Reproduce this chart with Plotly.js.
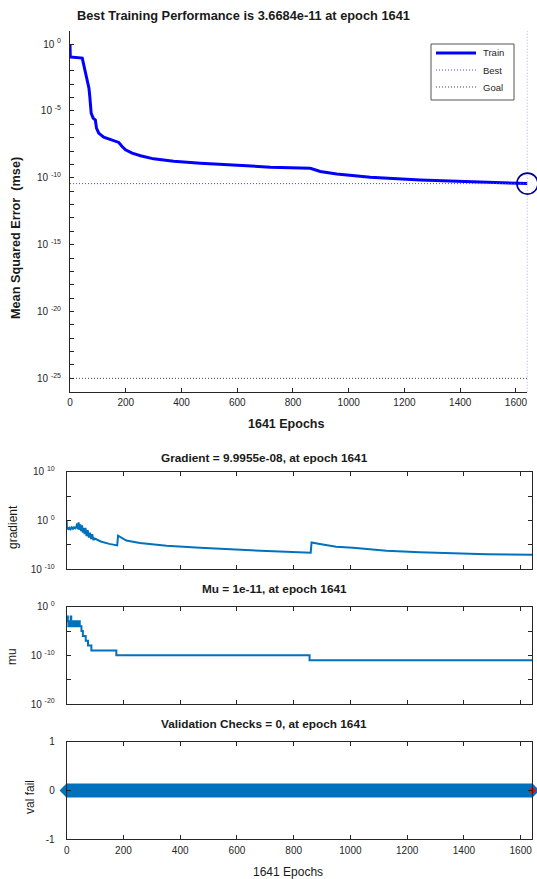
<!DOCTYPE html>
<html>
<head>
<meta charset="utf-8">
<script src="https://cdn.plot.ly/plotly-3.0.1.min.js"></script>
<style>
  html, body { margin: 0; padding: 0; background: #fff; }
  #chart { width: 537px; height: 879px; }
</style>
</head>
<body>
<div id="chart"></div>
<script>
// ---------------- DATA ----------------
const trainEpochs = [0, 1, 44, 50, 56, 62, 68, 71, 76, 83, 91, 95, 103, 121, 145, 175, 187, 199, 223, 253, 300, 372, 468, 587, 719, 862, 898, 957, 1077, 1256, 1435, 1602, 1641];
const trainPerf = [1, 0.107, 0.089, 0.0214, 0.0089, 0.00214, 5.0e-4, 1.2e-4, 6.8e-6, 2.9e-6, 2.1e-6, 5.1e-7, 2.2e-7, 1.1e-7, 6.9e-8, 4.4e-8, 2.2e-8, 1.23e-8, 6.9e-9, 4.4e-9, 2.6e-9, 1.74e-9, 1.23e-9, 8.7e-10, 6.2e-10, 5.2e-10, 2.95e-10, 1.95e-10, 1.1e-10, 6.9e-11, 5.2e-11, 4.2e-11, 3.6684e-11];

const bestEpoch = 1641;
const bestPerf = 3.6684e-11;
const goalPerf = 1e-25;
const lastEpoch = 1641;

const gradEpochs = [0, 1, 3, 6, 10, 14, 18, 22, 26, 30, 34, 37, 39, 42, 45, 48, 51, 54, 57, 60, 63, 66, 70, 74, 78, 82, 86, 90, 94, 99, 120, 150, 178, 181, 210, 258, 300, 352, 470, 587, 705, 860, 863, 892, 950, 1009, 1127, 1244, 1361, 1479, 1641];
const gradVals = [0.8, 0.016, 0.04, 0.0126, 0.032, 0.016, 0.04, 0.02, 0.04, 0.025, 0.05, 0.25, 0.016, 0.4, 0.0126, 0.16, 0.0063, 0.1, 0.0032, 0.032, 0.0016, 0.032, 6.3e-4, 0.01, 3.2e-4, 3.2e-3, 1.6e-4, 1.6e-3, 1e-4, 2e-4, 5e-5, 1.6e-5, 7.9e-6, 7.9e-4, 7.9e-5, 2.5e-5, 1.26e-5, 7.1e-6, 2.5e-6, 1.05e-6, 5.6e-7, 2.5e-7, 3.2e-5, 1.6e-5, 4.4e-6, 2.5e-6, 6.3e-7, 3.2e-7, 2e-7, 1.26e-7, 9.9955e-8];

const muEpochs = [0, 2, 4, 6, 8, 10, 12, 14, 16, 18, 20, 22, 24, 26, 28, 30, 32, 34, 36, 38, 40, 42, 44, 46, 48, 52, 57, 67, 75, 87, 175, 856, 1641];
const muVals = [1e-3, 1e-2, 1e-3, 1e-4, 1e-3, 1e-4, 1e-3, 1e-2, 1e-3, 1e-4, 1e-3, 1e-4, 1e-3, 1e-4, 1e-3, 1e-4, 1e-3, 1e-4, 1e-3, 1e-4, 1e-3, 1e-4, 1e-3, 1e-4, 1e-4, 1e-5, 1e-6, 1e-7, 1e-8, 1e-9, 1e-10, 1e-11, 1e-11];

const valEpochs = [0, 1641];
const valFail = [0, 0];

// tick labels
const epochTicks = [0, 200, 400, 600, 800, 1000, 1200, 1400, 1600];
const mseTickVals = [1e1, 1e0, 1e-1, 1e-2, 1e-3, 1e-4, 1e-5, 1e-6, 1e-7, 1e-8, 1e-9, 1e-10, 1e-11, 1e-12, 1e-13, 1e-14, 1e-15, 1e-16, 1e-17, 1e-18, 1e-19, 1e-20, 1e-21, 1e-22, 1e-23, 1e-24, 1e-25, 1e-26];
const mseTickText = ['', '10 <sup>0</sup>', '', '', '', '', '10 <sup>-5</sup>', '', '', '', '', '10 <sup>-10</sup>', '', '', '', '', '10 <sup>-15</sup>', '', '', '', '', '10 <sup>-20</sup>', '', '', '', '', '10 <sup>-25</sup>', ''];
const gradTickVals = [1e-10, 1e-5, 1e0, 1e5, 1e10];
const gradTickText = ['10 <sup>-10</sup>', '', '10 <sup>0</sup>', '', '10 <sup>10</sup>'];
const muTickVals = [1e-20, 1e-15, 1e-10, 1e-5, 1e0];
const muTickText = ['10 <sup>-20</sup>', '', '10 <sup>-10</sup>', '', '10 <sup>0</sup>'];
const valTickVals = [-1, 0, 1];
const valTickText = ['-1', '0', '1'];

const legendNames = ['Train', 'Best', 'Goal'];

// ---------------- LAYOUT HELPERS ----------------
const W = 537, H = 879;
const px = v => v / W;
const py = v => 1 - v / H;
const FONT = 'Liberation Sans, Arial, Helvetica, sans-serif';
const AX = '#262626';
const MBLUE = '#0072BD';
const TRAINBLUE = '#0000FF';
const BESTBLUE = '#4a4aff';
const GOALGRAY = '#444444';
const DOTS = '1px,2px';

const traces = [
  { x: trainEpochs, y: trainPerf, xaxis: 'x', yaxis: 'y', mode: 'lines', name: legendNames[0],
    line: { color: TRAINBLUE, width: 3 } },
  { x: [0, lastEpoch, null, bestEpoch, bestEpoch], y: [bestPerf, bestPerf, null, 1e-26, 1e1],
    xaxis: 'x', yaxis: 'y', mode: 'lines', name: legendNames[1], line: { color: BESTBLUE, width: 1, dash: DOTS } },
  { x: [0, lastEpoch], y: [goalPerf, goalPerf], xaxis: 'x', yaxis: 'y', mode: 'lines', name: legendNames[2],
    line: { color: GOALGRAY, width: 1, dash: DOTS } },
  { x: [bestEpoch], y: [bestPerf], xaxis: 'x', yaxis: 'y', mode: 'markers', cliponaxis: false,
    marker: { symbol: 'circle-open', size: 21, color: '#00008B', line: { width: 1.6, color: '#00008B' } } },

  { x: gradEpochs, y: gradVals, xaxis: 'x2', yaxis: 'y2', mode: 'lines',
    line: { color: MBLUE, width: 2 } },
  { x: muEpochs, y: muVals, xaxis: 'x3', yaxis: 'y3', mode: 'lines',
    line: { color: MBLUE, width: 2, shape: 'hv' } },
  { x: valEpochs, y: valFail, xaxis: 'x4', yaxis: 'y4', mode: 'lines+markers', cliponaxis: false,
    line: { color: MBLUE, width: 14 }, marker: { symbol: 'diamond', size: 11, color: MBLUE } },
  { x: [lastEpoch], y: [valFail[valFail.length - 1]], xaxis: 'x4', yaxis: 'y4', mode: 'markers', cliponaxis: false,
    marker: { symbol: 'diamond', size: 6, color: '#FF0000' } }
];

const baseX = {
  range: [0, 1641], tickvals: epochTicks, ticks: 'inside', ticklen: 4, tickcolor: AX, tickwidth: 1,
  showline: true, linecolor: AX, linewidth: 1, showgrid: false, zeroline: false,
  tickfont: { family: FONT, size: 10, color: AX }
};
const baseY = {
  ticks: 'inside', ticklen: 4, tickcolor: AX, tickwidth: 1,
  showline: true, linecolor: AX, linewidth: 1, showgrid: false, zeroline: false,
  tickfont: { family: FONT, size: 10, color: AX }
};

// manual legend (box, line samples, labels)
const legRows = [53, 70, 87];
const legStyles = [
  { color: TRAINBLUE, width: 3 },
  { color: BESTBLUE, width: 1, dash: DOTS },
  { color: GOALGRAY, width: 1, dash: DOTS }
];
const shapes = [
  { type: 'rect', xref: 'paper', yref: 'paper', x0: px(431), x1: px(514), y0: py(100), y1: py(44),
    line: { color: '#555', width: 1 }, fillcolor: '#fff', layer: 'above' }
].concat(legRows.map((r, i) => ({
  type: 'line', xref: 'paper', yref: 'paper', x0: px(436), x1: px(476), y0: py(r), y1: py(r),
  line: legStyles[i], layer: 'above'
})));

const ann = [
  { text: '<b>Best Training Performance is 3.6684e-11 at epoch 1641</b>', x: 243, y: 15, size: 12.8 },
  { text: '<b>1641 Epochs</b>', x: 286, y: 424, size: 12.5 },
  { text: '<b>Mean Squared Error  (mse)</b>', x: 16, y: 238, textangle: -90, size: 12.7 },
  { text: '<b>Gradient = 9.9955e-08, at epoch 1641</b>', x: 264, y: 458, size: 11.8 },
  { text: 'gradient', x: 13, y: 527, textangle: -90, size: 12 },
  { text: '<b>Mu = 1e-11, at epoch 1641</b>', x: 274.5, y: 589, size: 11.8 },
  { text: 'mu', x: 12, y: 657, textangle: -90, size: 12 },
  { text: '<b>Validation Checks = 0, at epoch 1641</b>', x: 264, y: 724, size: 11.8 },
  { text: 'val fail', x: 30, y: 797, textangle: -90, size: 12 },
  { text: '1641 Epochs', x: 288, y: 872, size: 12 }
].map(a => ({
  text: a.text, x: px(a.x), y: py(a.y), xref: 'paper', yref: 'paper', xanchor: 'center', yanchor: 'middle',
  showarrow: false, textangle: a.textangle || 0,
  font: { family: FONT, size: a.size, color: '#1a1a1a' }
})).concat(legRows.map((r, i) => ({
  text: legendNames[i], x: px(481), y: py(r), xref: 'paper', yref: 'paper', xanchor: 'left', yanchor: 'middle',
  showarrow: false, font: { family: FONT, size: 9.5, color: '#262626' }
})));

const layout = {
  width: W, height: H,
  margin: { l: 0, r: 0, t: 0, b: 0 },
  paper_bgcolor: '#fff', plot_bgcolor: '#fff',
  font: { family: FONT, color: AX },
  showlegend: false,

  xaxis: Object.assign({}, baseX, { domain: [px(70), px(527.4)], anchor: 'y', ticklabelstandoff: 1 }),
  yaxis: Object.assign({}, baseY, { domain: [py(391.7), py(30.7)], anchor: 'x', type: 'log', range: [-26, 1],
    tickvals: mseTickVals, ticktext: mseTickText, ticklabelstandoff: 6 }),

  xaxis2: Object.assign({}, baseX, { domain: [px(66.7), px(532.3)], anchor: 'y2', mirror: 'ticks', showticklabels: false }),
  yaxis2: Object.assign({}, baseY, { domain: [py(569.3), py(471.7)], anchor: 'x2', type: 'log', range: [-10, 10],
    tickvals: gradTickVals, ticktext: gradTickText, mirror: 'ticks', ticklabelstandoff: 9 }),

  xaxis3: Object.assign({}, baseX, { domain: [px(66.7), px(532.3)], anchor: 'y3', mirror: 'ticks', showticklabels: false }),
  yaxis3: Object.assign({}, baseY, { domain: [py(704), py(606.7)], anchor: 'x3', type: 'log', range: [-20, 0],
    tickvals: muTickVals, ticktext: muTickText, mirror: 'ticks', ticklabelstandoff: 9 }),

  xaxis4: Object.assign({}, baseX, { domain: [px(66.7), px(532.3)], anchor: 'y4', mirror: 'ticks', ticklabelstandoff: 2 }),
  yaxis4: Object.assign({}, baseY, { domain: [py(839.3), py(741.7)], anchor: 'x4', range: [-1, 1],
    tickvals: valTickVals, ticktext: valTickText, mirror: 'ticks', ticklabelstandoff: 9 }),

  shapes: shapes,
  annotations: ann
};

Plotly.newPlot('chart', traces, layout, { displayModeBar: false, responsive: false });
</script>
</body>
</html>
